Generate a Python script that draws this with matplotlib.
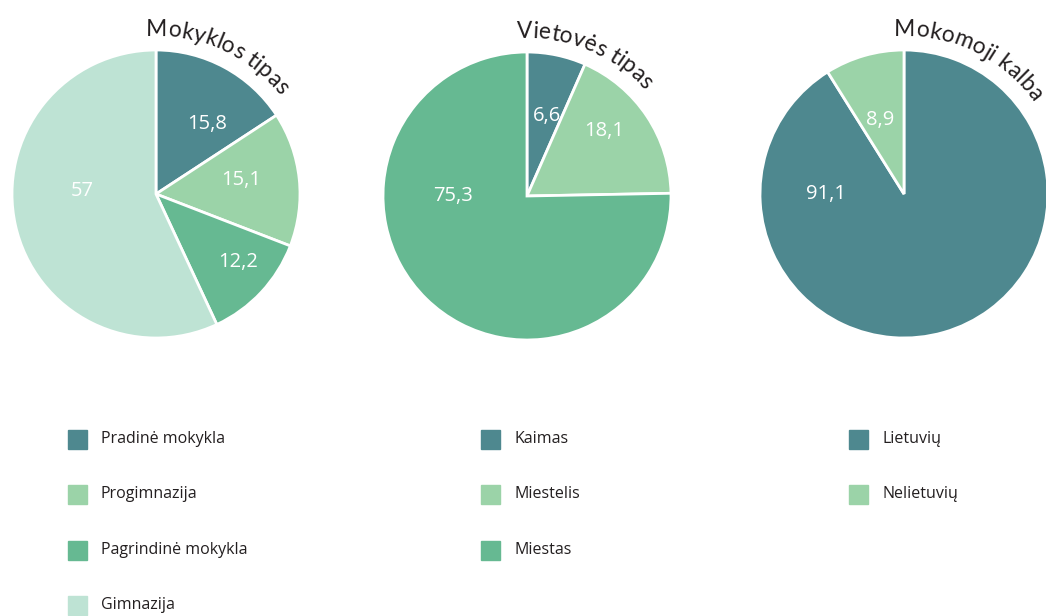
import numpy as np
import matplotlib.pyplot as plt
from matplotlib.font_manager import FontProperties

plt.rcParams["font.family"] = ["Open Sans", "DejaVu Sans"]

W, H = 1046, 616

# data
titles = ["Mokyklos tipas", "Vietovės tipas", "Mokomoji kalba"]

school_labels = ["Pradinė mokykla", "Progimnazija", "Pagrindinė mokykla", "Gimnazija"]
school_values = [15.8, 15.1, 12.2, 57]
school_text = ["15,8", "15,1", "12,2", "57"]

place_labels = ["Kaimas", "Miestelis", "Miestas"]
place_values = [6.6, 18.1, 75.3]
place_text = ["6,6", "18,1", "75,3"]

lang_labels = ["Lietuvių", "Nelietuvių"]
lang_values = [91.1, 8.9]
lang_text = ["91,1", "8,9"]

colors = ["#4e888f", "#9bd3a8", "#66b992", "#bee3d4"]

# layout (pixels from top-left)
centers = [(156, 194), (527, 196), (904, 194)]
radius = 144
# label placement per pie: (angle deg, fraction of radius)
label_pos = [
    [(54, 0.60), (9, 0.60), (-40, 0.74), (178, 0.51)],
    [(76, 0.57), (40, 0.70), (180, 0.51)],
    [(180, 0.54), (108, 0.54)],
]
legend_x = [68, 481, 849]
legend_rows = [439, 494, 550, 605]

fig = plt.figure(figsize=(W / 100, H / 100), dpi=100)
ax = fig.add_axes([0, 0, 1, 1])

title_fp = FontProperties(family="Lato", size=16.5)


def curved_title(text, cx, cy, R, start_deg):
    renderer = fig.canvas.get_renderer()
    for i, ch in enumerate(text):
        w_pre = renderer.get_text_width_height_descent(text[:i], title_fp, ismath=False)[0] if i else 0
        w_ch = renderer.get_text_width_height_descent(ch, title_fp, ismath=False)[0]
        s = w_pre + w_ch / 2
        th = np.radians(start_deg) - s / R
        ax.text(cx + R * np.cos(th), cy + R * np.sin(th), ch, fontproperties=title_fp,
                rotation=np.degrees(th) - 90, rotation_mode="anchor",
                ha="center", va="baseline", color="#231f20")


all_values = [school_values, place_values, lang_values]
all_text = [school_text, place_text, lang_text]
for k in range(3):
    cx, cy = centers[k][0], H - centers[k][1]
    vals = all_values[k]
    ax.pie(vals, colors=colors[:len(vals)], startangle=90, counterclock=False,
           center=(cx, cy), radius=radius, frame=True,
           wedgeprops=dict(edgecolor="white", linewidth=2))
    for (ang, fr), t in zip(label_pos[k], all_text[k]):
        a = np.radians(ang)
        ax.text(cx + fr * radius * np.cos(a), cy + fr * radius * np.sin(a), t,
                ha="center", va="center", color="white", fontsize=14.5)
    curved_title(titles[k], cx, cy, 158, 93.5)

ax.set_xlim(0, W)
ax.set_ylim(0, H)
ax.set_aspect("auto")
ax.axis("off")

# legends
for k, labels in enumerate([school_labels, place_labels, lang_labels]):
    for j, lab in enumerate(labels):
        y = H - legend_rows[j]
        ax.add_patch(plt.Rectangle((legend_x[k], y - 9.5), 19, 19, color=colors[j]))
        ax.text(legend_x[k] + 33, y, lab, ha="left", va="center", fontsize=11.5, color="#231f20")

fig.savefig("out.png", dpi=100)
